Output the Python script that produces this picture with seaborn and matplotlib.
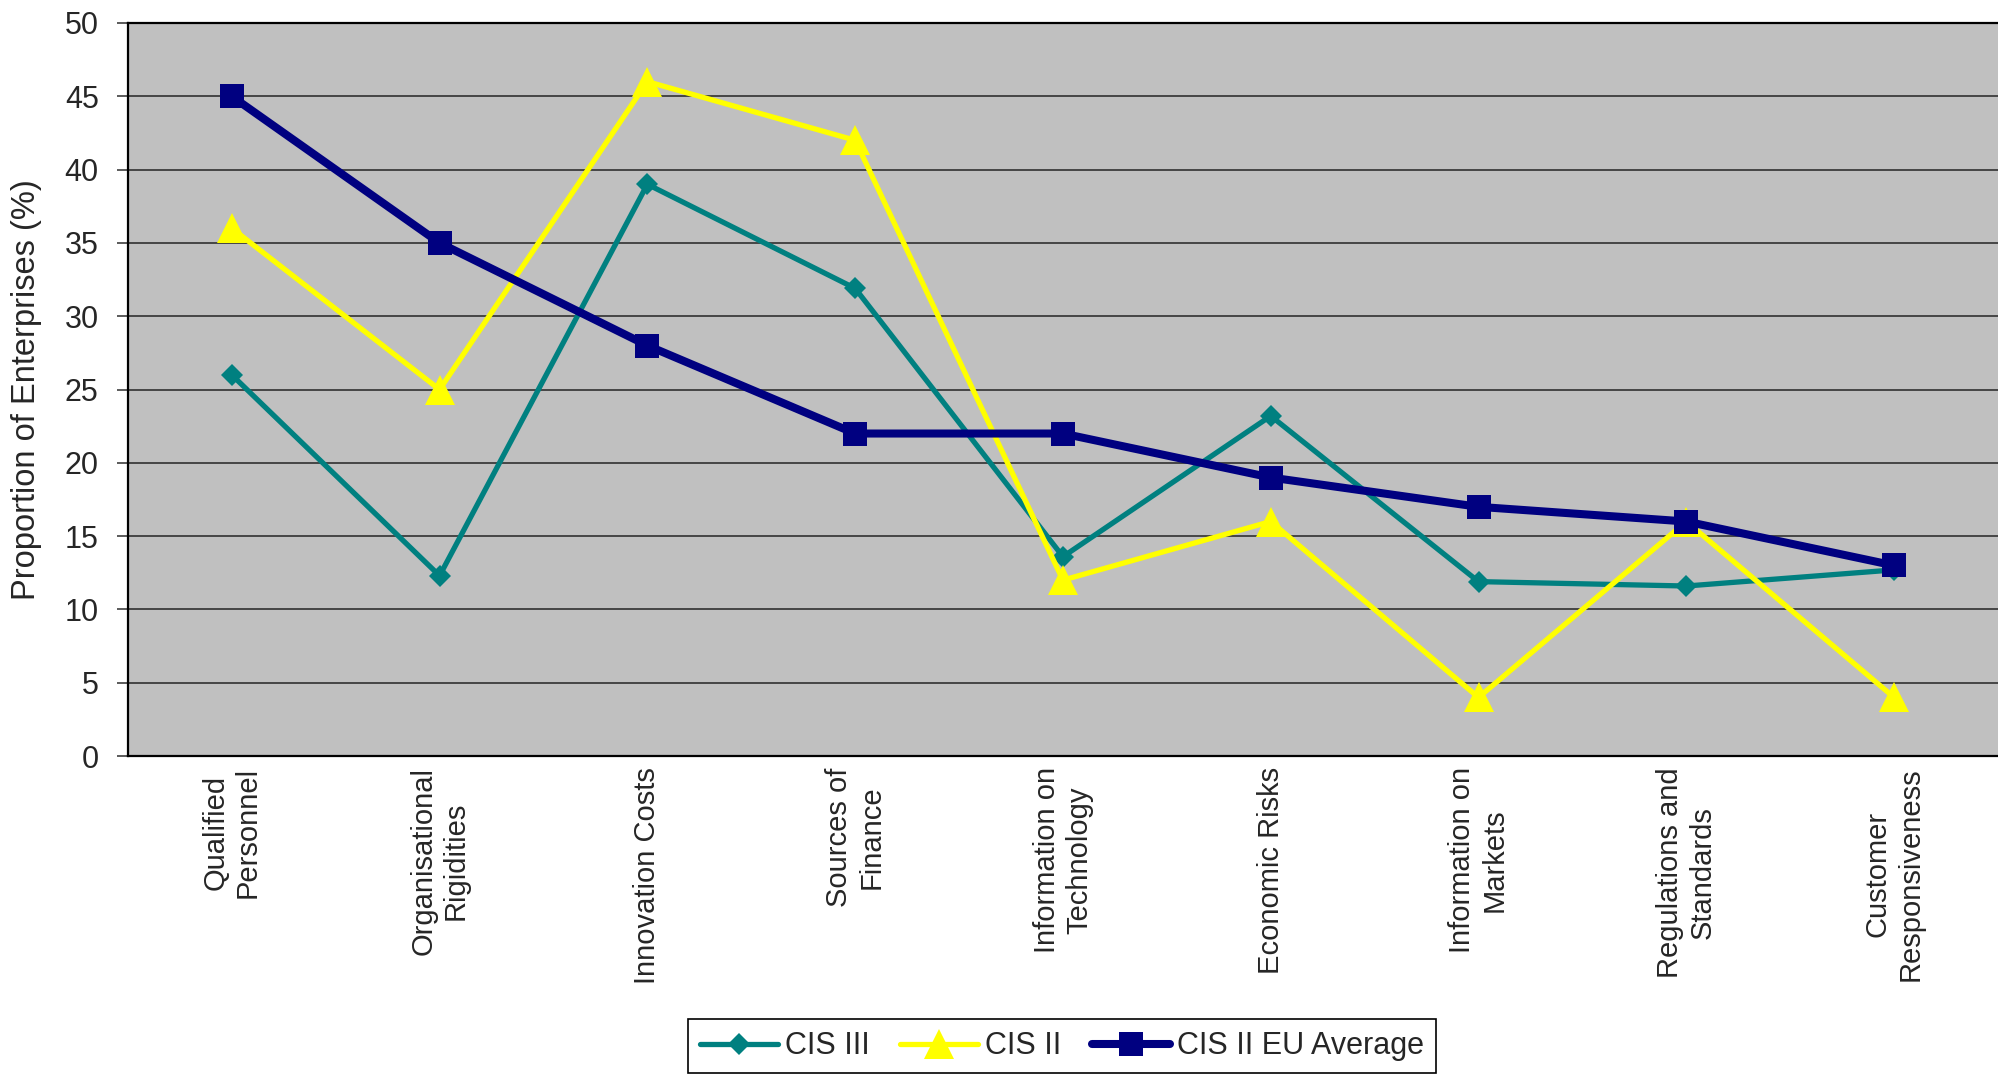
import numpy as np
import pandas as pd
import matplotlib
matplotlib.use("Agg")
import matplotlib.pyplot as plt
import seaborn as sns

# Barriers to innovation: share of enterprises citing each factor
categories = [
    "Qualified\nPersonnel",
    "Organisational\nRigidities",
    "Innovation Costs",
    "Sources of\nFinance",
    "Information on\nTechnology",
    "Economic Risks",
    "Information on\nMarkets",
    "Regulations and\nStandards",
    "Customer\nResponsiveness",
]
cis_iii = [26.0, 12.3, 39.0, 31.9, 13.6, 23.2, 11.9, 11.6, 12.7]
cis_ii = [36.0, 25.0, 46.0, 42.0, 12.0, 16.0, 4.0, 16.0, 4.0]
cis_ii_eu_avg = [45.0, 35.0, 28.0, 22.0, 22.0, 19.0, 17.0, 16.0, 13.0]
series_names = ["CIS III", "CIS II", "CIS II EU Average"]
y_ticks = [0, 5, 10, 15, 20, 25, 30, 35, 40, 45, 50]

sns.set_theme(style="white")
plt.rcParams["font.family"] = ["Liberation Sans", "DejaVu Sans"]

fig = plt.figure(figsize=(19.98, 10.74), dpi=100)
ax = fig.add_axes([0.064, 0.296, 0.936, 0.6826])
ax.set_facecolor("#C0C0C0")

x = np.arange(len(categories))
styles = [
    dict(color="#008080", marker="D", markersize=11, linewidth=3.8),
    dict(color="#FFFF00", marker="^", markersize=22, linewidth=3.8),
    dict(color="#000080", marker="s", markersize=17, linewidth=5.8),
]
for name, values, st in zip(series_names, [cis_iii, cis_ii, cis_ii_eu_avg], styles):
    df = pd.DataFrame({"pos": x, "value": values})
    sns.lineplot(data=df, x="pos", y="value", ax=ax, sort=False, label=name,
                 color=st["color"], linewidth=st["linewidth"], marker=st["marker"],
                 markersize=st["markersize"], markeredgewidth=0,
                 markerfacecolor=st["color"], zorder=3)

ax.set_xlim(-0.5, len(categories) - 0.5)
ax.set_ylim(0, 50)
ax.set_yticks(y_ticks)
ax.set_yticklabels([str(t) for t in y_ticks], fontsize=22)
ax.yaxis.grid(True, color="#303030", linewidth=1.2)
ax.set_axisbelow(True)

ax.set_xticks(x)
ax.set_xticklabels(categories, rotation=90, fontsize=21, va="top", ha="center",
                   multialignment="center")
ax.set_xticks(np.arange(-0.5, len(categories)), minor=True)
ax.tick_params(axis="x", which="major", length=0, pad=8)
ax.tick_params(axis="x", which="minor", length=8, width=1.2, color="#404040", direction="out")
ax.tick_params(axis="y", which="major", length=8, width=1.2, color="#404040", direction="out",
               pad=13, left=True)

ax.set_xlabel("")
ax.set_ylabel("Proportion of Enterprises (%)", fontsize=23.5)
ax.yaxis.set_label_coords(-0.046, 0.5)

for side in ["left", "bottom", "top"]:
    ax.spines[side].set_visible(True)
    ax.spines[side].set_color("black")
    ax.spines[side].set_linewidth(1.6)
ax.spines["right"].set_visible(False)

ax.get_legend().remove()
handles, labels = ax.get_legend_handles_labels()
leg = fig.legend(handles, labels, loc="upper center", bbox_to_anchor=(0.5315, 1 - 1019 / 1074),
                 ncol=3, frameon=True, fancybox=False, edgecolor="black",
                 facecolor="white", framealpha=1, handlelength=2.55, handletextpad=0.23,
                 columnspacing=1.0, borderpad=0.4, borderaxespad=0,
                 prop={"size": 22})
leg.get_frame().set_linewidth(1.2)

fig.savefig("out.png", dpi=100)
